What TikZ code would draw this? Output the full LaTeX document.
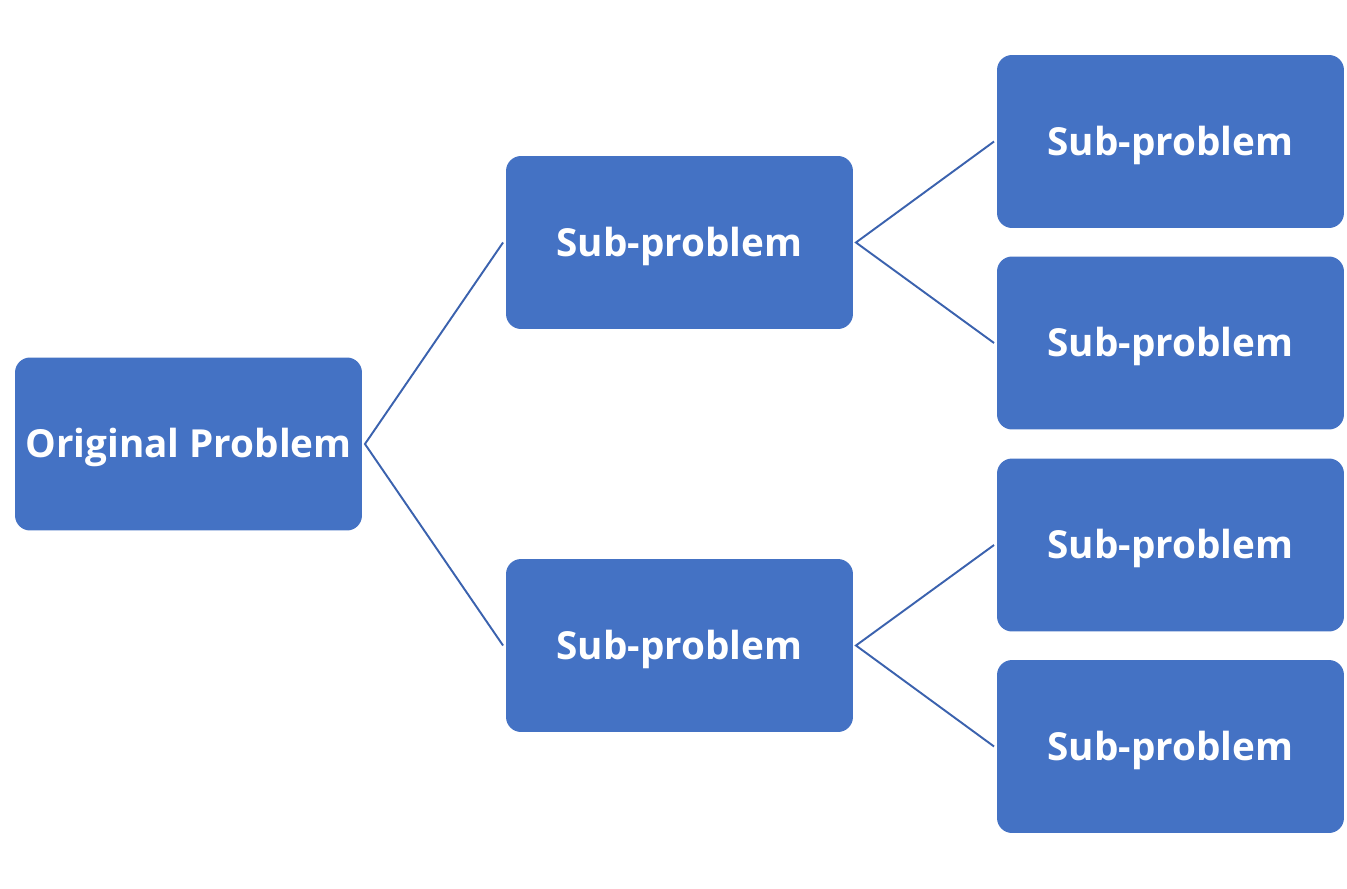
\documentclass[tikz,border=0pt]{standalone}
\usepackage{fontspec}
\setmainfont{Open Sans}
\usepackage{xcolor}
\usetikzlibrary{positioning}

\definecolor{boxblue}{HTML}{4472C4}
\definecolor{lineblue}{HTML}{3B62AE}

\begin{document}
\begin{tikzpicture}[x=0.02cm, y=-0.02cm,
    probbox/.style={fill=boxblue, rounded corners=0.3cm, minimum width=6.94cm, minimum height=3.46cm,
        text=white, font=\fontsize{22}{26}\selectfont\bfseries, text height=17.5pt, text depth=2pt,
        outer sep=1.7pt, inner sep=0pt},
    link/.style={draw=lineblue, line width=1.1pt}]
\useasboundingbox (0,0) rectangle (1347,889);

% Root
\node[probbox] (orig) at (188.5, 444) {Original Problem};

% Level 1
\node[probbox] (subA) at (679.5, 242.5) {Sub-problem};
\node[probbox] (subB) at (679.5, 645.5) {Sub-problem};

% Level 2
\node[probbox] (subA1) at (1170.5, 141.5) {Sub-problem};
\node[probbox] (subA2) at (1170.5, 343) {Sub-problem};
\node[probbox] (subB1) at (1170.5, 545) {Sub-problem};
\node[probbox] (subB2) at (1170.5, 746.5) {Sub-problem};

% Links
\draw[link] (subA.west) -- (orig.east) -- (subB.west);
\draw[link] (subA1.west) -- (subA.east) -- (subA2.west);
\draw[link] (subB1.west) -- (subB.east) -- (subB2.west);

\end{tikzpicture}
\end{document}
